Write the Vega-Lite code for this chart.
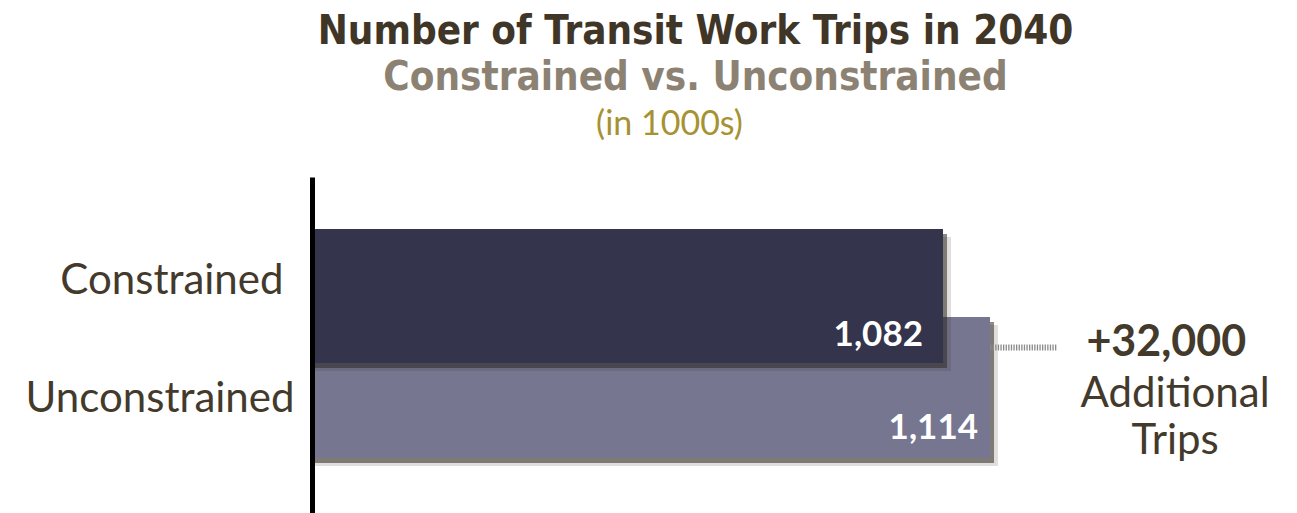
{
  "$schema": "https://vega.github.io/schema/vega-lite/v6.json",
  "width": 985,
  "height": 336,
  "autosize": {"type": "none"},
  "padding": {"left": 312, "top": 177, "right": 0, "bottom": 0},
  "background": "white",
  "config": {"view": {"stroke": null}},
  "title": {
    "text": "Number of Transit Work Trips in 2040",
    "subtitle": "Constrained vs. Unconstrained",
    "anchor": "middle",
    "frame": "group",
    "dx": -109,
    "font": "DejaVu Sans Condensed, sans-serif",
    "fontSize": 40,
    "fontWeight": "bold",
    "color": "#3f3628",
    "subtitleFont": "DejaVu Sans Condensed, sans-serif",
    "subtitleFontSize": 40,
    "subtitleFontWeight": "bold",
    "subtitleColor": "#8c8273",
    "subtitlePadding": 6,
    "offset": 9
  },
  "data": {
    "values": [
      {"scenario": "Unconstrained", "trips": 1114},
      {"scenario": "Constrained", "trips": 1082}
    ]
  },
  "encoding": {
    "y": {
      "field": "scenario",
      "type": "nominal",
      "scale": {
        "domain": ["Constrained", "Unconstrained"],
        "paddingInner": 0,
        "paddingOuter": 0.836,
        "align": 0.479
      },
      "axis": {
        "title": null,
        "ticks": false,
        "tickSize": 0,
        "domainColor": "#000000",
        "domainWidth": 5,
        "labelFont": "Lato",
        "labelFontSize": 42,
        "labelColor": "#433a2c",
        "labelLimit": 0,
        "labelBaseline": "middle",
        "labelPadding": {"condition": {"test": "datum.value === 'Constrained'", "value": 29}, "value": 18},
        "labelOffset": {"condition": {"test": "datum.value === 'Constrained'", "value": -15}, "value": 11},
        "zindex": 1
      }
    },
    "x": {
      "field": "trips",
      "type": "quantitative",
      "scale": {"domain": [652.4, 1323], "zero": false, "nice": false},
      "axis": {
        "orient": "top",
        "title": "(in 1000s)",
        "labels": false,
        "ticks": false,
        "domain": false,
        "grid": false,
        "titleFont": "Lato",
        "titleFontSize": 34,
        "titleFontWeight": "normal",
        "titleColor": "#a69233",
        "titlePadding": 36,
        "titleX": 357,
        "titleAlign": "center"
      }
    }
  },
  "layer": [
    {
      "transform": [{"filter": "datum.scenario === 'Unconstrained'"}],
      "mark": {"type": "bar", "height": 141, "color": "#2e2823", "opacity": 0.15, "xOffset": 8, "yOffset": 8, "clip": true}
    },
    {
      "transform": [{"filter": "datum.scenario === 'Unconstrained'"}],
      "mark": {"type": "bar", "height": 141, "color": "#2e2823", "opacity": 0.55, "xOffset": 4, "yOffset": 5, "clip": true}
    },
    {
      "transform": [{"filter": "datum.scenario === 'Unconstrained'"}],
      "mark": {"type": "bar", "height": 141, "color": "#777691", "clip": true}
    },
    {
      "transform": [{"filter": "datum.scenario === 'Constrained'"}],
      "mark": {"type": "bar", "height": 134, "color": "#2e2823", "opacity": 0.15, "xOffset": 8, "yOffset": 8, "clip": true}
    },
    {
      "transform": [{"filter": "datum.scenario === 'Constrained'"}],
      "mark": {"type": "bar", "height": 134, "color": "#2e2823", "opacity": 0.55, "xOffset": 4, "yOffset": 5, "clip": true}
    },
    {
      "transform": [{"filter": "datum.scenario === 'Constrained'"}],
      "mark": {"type": "bar", "height": 134, "color": "#35344d", "clip": true}
    },
    {
      "transform": [{"filter": "datum.scenario === 'Constrained'"}],
      "mark": {"type": "text", "align": "right", "baseline": "middle", "dx": -20, "dy": 39, "font": "Lato", "fontSize": 35, "fontWeight": "bold", "color": "#ffffff"},
      "encoding": {"text": {"field": "trips", "type": "quantitative", "format": ",.0f"}}
    },
    {
      "transform": [{"filter": "datum.scenario === 'Unconstrained'"}],
      "mark": {"type": "text", "align": "right", "baseline": "middle", "dx": -12, "dy": 40, "font": "Lato", "fontSize": 35, "fontWeight": "bold", "color": "#ffffff"},
      "encoding": {"text": {"field": "trips", "type": "quantitative", "format": ",.0f"}}
    },
    {
      "transform": [{"filter": "datum.scenario === 'Unconstrained'"}],
      "mark": {"type": "rule", "color": "#8a8a8a", "strokeWidth": 6, "strokeDash": [1.3, 1.3], "yOffset": -40},
      "encoding": {"x2": {"datum": 1160}}
    },
    {
      "transform": [{"filter": "datum.scenario === 'Unconstrained'"}],
      "mark": {"type": "text", "align": "center", "baseline": "middle", "dy": -45, "font": "Lato", "fontSize": 43, "fontWeight": "bold", "color": "#433a2c"},
      "encoding": {
        "x": {"datum": 1234},
        "text": {"value": "+32,000"}
      }
    },
    {
      "transform": [{"filter": "datum.scenario === 'Unconstrained'"}],
      "mark": {"type": "text", "align": "center", "baseline": "alphabetic", "dy": 19, "lineHeight": 47, "font": "Lato", "fontSize": 42, "color": "#433a2c"},
      "encoding": {
        "x": {"datum": 1240},
        "text": {"value": ["Additional", "Trips"]}
      }
    }
  ]
}
